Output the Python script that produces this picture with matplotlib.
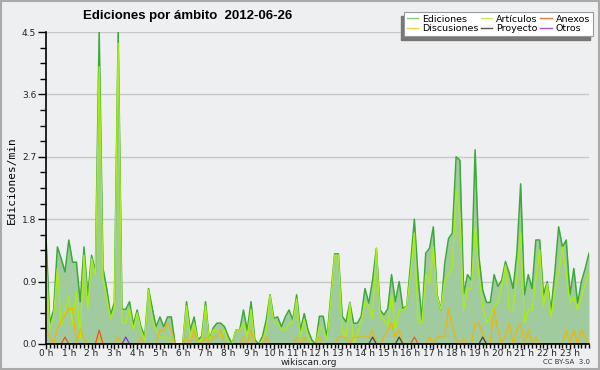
import numpy as np
import matplotlib
matplotlib.use("Agg")
import matplotlib.pyplot as plt
from matplotlib.lines import Line2D
from matplotlib.patches import Rectangle

# one value every 10 minutes, 0:00 .. 23:50
ediciones = [
    1.55, 0.30, 0.49, 1.40, 1.23, 1.04, 1.50, 1.18, 1.18, 0.61, 1.40, 0.70,
    1.28, 1.04, 4.50, 1.09, 0.80, 0.42, 0.60, 4.50, 0.50, 0.50, 0.61, 0.28,
    0.49, 0.25, 0.11, 0.80, 0.51, 0.25, 0.39, 0.25, 0.39, 0.39, 0.00, 0.00,
    0.00, 0.61, 0.20, 0.39, 0.06, 0.11, 0.61, 0.06, 0.23, 0.30, 0.30, 0.25,
    0.11, 0.00, 0.20, 0.20, 0.49, 0.20, 0.61, 0.06, 0.00, 0.11, 0.35, 0.71,
    0.37, 0.39, 0.25, 0.39, 0.49, 0.35, 0.71, 0.20, 0.44, 0.20, 0.06, 0.00,
    0.40, 0.40, 0.10, 0.70, 1.30, 1.30, 0.40, 0.32, 0.60, 0.30, 0.30, 0.40,
    0.80, 0.59, 0.92, 1.38, 0.49, 0.42, 0.51, 1.00, 0.61, 0.90, 0.51, 0.55,
    1.15, 1.80, 0.95, 0.35, 1.31, 1.38, 1.69, 0.71, 0.49, 1.16, 1.52, 1.60,
    2.70, 2.65, 0.73, 1.00, 0.92, 2.80, 1.26, 0.78, 0.60, 0.60, 1.00, 0.83,
    0.92, 1.19, 1.02, 0.80, 1.31, 2.31, 0.71, 1.00, 0.80, 1.50, 1.50, 0.71,
    0.90, 0.49, 1.04, 1.69, 1.40, 1.50, 0.71, 1.09, 0.59, 0.90, 1.09, 1.31,
]
articulos = [
    1.20, 0.20, 0.40, 1.09, 0.27, 0.46, 0.70, 0.27, 0.75, 0.08, 1.28, 0.51,
    1.23, 0.99, 4.00, 0.94, 0.66, 0.37, 0.50, 4.34, 0.30, 0.30, 0.51, 0.20,
    0.45, 0.20, 0.05, 0.78, 0.35, 0.20, 0.10, 0.10, 0.10, 0.05, 0.00, 0.00,
    0.00, 0.55, 0.10, 0.30, 0.05, 0.05, 0.55, 0.05, 0.20, 0.20, 0.10, 0.20,
    0.02, 0.00, 0.20, 0.20, 0.30, 0.10, 0.50, 0.00, 0.00, 0.05, 0.20, 0.70,
    0.30, 0.30, 0.20, 0.20, 0.30, 0.30, 0.65, 0.10, 0.35, 0.10, 0.00, 0.00,
    0.25, 0.20, 0.06, 0.63, 1.28, 1.28, 0.18, 0.10, 0.59, 0.01, 0.15, 0.32,
    0.61, 0.54, 0.37, 1.38, 0.39, 0.35, 0.25, 0.71, 0.20, 0.49, 0.49, 0.54,
    1.02, 1.60, 0.32, 0.30, 1.00, 0.87, 1.40, 0.68, 0.49, 0.92, 1.00, 1.09,
    2.22, 1.84, 0.49, 0.80, 0.80, 1.69, 1.02, 0.54, 0.30, 0.39, 0.54, 0.59,
    0.83, 1.14, 0.49, 0.49, 0.97, 1.60, 0.30, 0.49, 0.49, 0.92, 1.36, 0.54,
    0.87, 0.39, 0.78, 1.02, 1.40, 1.02, 0.59, 0.68, 0.49, 0.68, 0.87, 1.02,
]
discusiones = [
    0.22, 0.10, 0.00, 0.22, 0.32, 0.42, 0.51, 0.51, 0.00, 0.22, 0.08, 0.00,
    0.00, 0.00, 0.10, 0.00, 0.00, 0.00, 0.00, 0.10, 0.00, 0.00, 0.00, 0.00,
    0.00, 0.08, 0.00, 0.00, 0.00, 0.00, 0.20, 0.20, 0.30, 0.20, 0.00, 0.00,
    0.00, 0.10, 0.00, 0.20, 0.00, 0.00, 0.10, 0.00, 0.10, 0.10, 0.20, 0.00,
    0.00, 0.00, 0.00, 0.00, 0.10, 0.00, 0.20, 0.00, 0.00, 0.00, 0.10, 0.00,
    0.00, 0.00, 0.00, 0.00, 0.00, 0.00, 0.10, 0.00, 0.10, 0.00, 0.00, 0.00,
    0.10, 0.00, 0.00, 0.00, 0.00, 0.10, 0.10, 0.10, 0.00, 0.10, 0.10, 0.10,
    0.10, 0.10, 0.20, 0.00, 0.00, 0.10, 0.20, 0.30, 0.10, 0.20, 0.00, 0.00,
    0.00, 0.00, 0.00, 0.00, 0.00, 0.10, 0.00, 0.10, 0.10, 0.10, 0.51, 0.25,
    0.06, 0.00, 0.08, 0.00, 0.00, 0.30, 0.30, 0.15, 0.00, 0.00, 0.51, 0.20,
    0.00, 0.13, 0.30, 0.00, 0.20, 0.30, 0.00, 0.20, 0.00, 0.10, 0.00, 0.00,
    0.00, 0.00, 0.00, 0.00, 0.00, 0.20, 0.00, 0.20, 0.00, 0.20, 0.10, 0.00,
]
anexos = [
    0.0, 0.0, 0.0, 0.0, 0.0, 0.1, 0.0, 0.0, 0.0, 0.0, 0.0, 0.0,
    0.0, 0.0, 0.2, 0.0, 0.0, 0.0, 0.0, 0.0, 0.0, 0.0, 0.0, 0.0,
    0.0, 0.0, 0.0, 0.0, 0.0, 0.0, 0.0, 0.0, 0.0, 0.0, 0.0, 0.0,
    0.0, 0.0, 0.0, 0.0, 0.0, 0.0, 0.0, 0.0, 0.0, 0.0, 0.0, 0.0,
    0.0, 0.0, 0.0, 0.0, 0.0, 0.0, 0.0, 0.0, 0.0, 0.0, 0.0, 0.0,
    0.0, 0.0, 0.0, 0.0, 0.0, 0.0, 0.0, 0.0, 0.0, 0.0, 0.0, 0.0,
    0.0, 0.0, 0.0, 0.0, 0.0, 0.0, 0.0, 0.0, 0.0, 0.0, 0.0, 0.0,
    0.0, 0.0, 0.0, 0.0, 0.0, 0.0, 0.0, 0.0, 0.0, 0.0, 0.0, 0.0,
    0.0, 0.1, 0.0, 0.0, 0.0, 0.0, 0.0, 0.0, 0.0, 0.0, 0.0, 0.0,
    0.0, 0.0, 0.0, 0.0, 0.0, 0.0, 0.0, 0.0, 0.0, 0.0, 0.0, 0.0,
    0.0, 0.0, 0.0, 0.0, 0.0, 0.0, 0.0, 0.0, 0.0, 0.0, 0.0, 0.0,
    0.0, 0.0, 0.0, 0.0, 0.0, 0.0, 0.0, 0.0, 0.0, 0.0, 0.0, 0.0,
]
proyecto = [
    0.0, 0.0, 0.0, 0.0, 0.0, 0.0, 0.0, 0.0, 0.0, 0.0, 0.0, 0.0,
    0.0, 0.0, 0.0, 0.0, 0.0, 0.0, 0.0, 0.0, 0.0, 0.0, 0.0, 0.0,
    0.0, 0.0, 0.0, 0.0, 0.0, 0.0, 0.0, 0.0, 0.0, 0.0, 0.0, 0.0,
    0.0, 0.0, 0.0, 0.0, 0.0, 0.0, 0.0, 0.0, 0.0, 0.0, 0.0, 0.0,
    0.0, 0.0, 0.0, 0.0, 0.0, 0.0, 0.0, 0.0, 0.0, 0.0, 0.0, 0.0,
    0.0, 0.0, 0.0, 0.0, 0.0, 0.0, 0.0, 0.0, 0.0, 0.0, 0.0, 0.0,
    0.0, 0.0, 0.0, 0.0, 0.0, 0.0, 0.0, 0.0, 0.0, 0.0, 0.0, 0.0,
    0.0, 0.0, 0.1, 0.0, 0.0, 0.0, 0.0, 0.0, 0.0, 0.1, 0.0, 0.0,
    0.0, 0.0, 0.0, 0.0, 0.0, 0.0, 0.0, 0.0, 0.0, 0.0, 0.0, 0.0,
    0.0, 0.0, 0.0, 0.0, 0.0, 0.0, 0.0, 0.1, 0.0, 0.0, 0.0, 0.0,
    0.0, 0.0, 0.0, 0.0, 0.0, 0.0, 0.0, 0.0, 0.0, 0.0, 0.0, 0.0,
    0.0, 0.0, 0.0, 0.0, 0.0, 0.0, 0.0, 0.0, 0.0, 0.0, 0.0, 0.0,
]
otros = [
    0.0, 0.0, 0.0, 0.0, 0.0, 0.0, 0.0, 0.0, 0.0, 0.0, 0.0, 0.0,
    0.0, 0.0, 0.0, 0.0, 0.0, 0.0, 0.0, 0.0, 0.0, 0.1, 0.0, 0.0,
] + [0.0] * 120

hour_labels = ["%d h" % h for h in range(24)]

BG = "#eeeff1"
hours = np.arange(len(ediciones)) * 10 / 60.0

fig = plt.figure(figsize=(6, 3.7), dpi=100, facecolor=BG)
ax = fig.add_axes([0.0767, 0.0703, 0.905, 0.8432])
ax.set_facecolor(BG)

ax.fill_between(hours, ediciones, 0, color="#9fcb9f", lw=0)
ax.plot(hours, ediciones, color="#3aaa38", lw=1.1)
ax.plot(hours, articulos, color="#aaee11", lw=1.0)
ax.plot(hours, discusiones, color="#f2b600", lw=0.9)
ax.plot(hours, anexos, color="#ee5522", lw=0.9)
ax.plot(hours, proyecto, color="#444444", lw=0.9)
ax.plot(hours, otros, color="#8833cc", lw=0.9)

ax.set_xlim(0, hours[-1])
ax.set_ylim(0, 4.5)
yt = np.arange(0, 4.51, 0.9)
ax.set_yticks(yt)
ax.set_yticks(np.arange(0, 4.51, 0.225), minor=True)
ax.set_yticklabels(["%.1f" % v for v in yt])
ax.set_xticks(np.arange(24))
ax.set_xticklabels(hour_labels)
ax.set_xticks(hours, minor=True)
ax.grid(axis="y", color="#c8c8c8", lw=1)
ax.set_axisbelow(True)

for s in ["top", "right"]:
    ax.spines[s].set_visible(False)
ax.spines["left"].set_linewidth(1.2)
ax.spines["bottom"].set_linewidth(1.2)
ax.tick_params(axis="both", which="major", labelsize=6.5, colors="black", labelcolor="#222222")
ax.tick_params(axis="y", which="major", length=6, width=1, pad=1)
ax.tick_params(axis="y", which="minor", length=4, width=1)
ax.tick_params(axis="x", which="major", length=3.5, width=1, pad=0)
ax.tick_params(axis="x", which="minor", length=3, width=1)

fig.text(0.02, 0.513, "Ediciones/min", rotation=90, ha="center", va="center",
         family="DejaVu Sans Mono", fontsize=8)
fig.text(0.515, 0.021, "wikiscan.org", ha="center", va="center", fontsize=6.5,
         color="#222222")
fig.text(0.312, 0.958, "Ediciones por ámbito  2012-06-26", ha="center", va="center",
         fontsize=9.5, fontweight="bold", family="Liberation Sans")
fig.text(0.983, 0.021, "CC BY-SA  3.0", ha="right", va="center", fontsize=5,
         color="#333333")

handles = [
    Line2D([], [], color="#88cc88", lw=1),
    Line2D([], [], color="#ffcc44", lw=1),
    Line2D([], [], color="#ccee55", lw=1),
    Line2D([], [], color="#555555", lw=1),
    Line2D([], [], color="#ee7744", lw=1),
    Line2D([], [], color="#9955ee", lw=1),
]
names = ["Ediciones", "Discusiones", "Artículos", "Proyecto", "Anexos", "Otros"]
leg = fig.legend(handles, names, loc="upper right", bbox_to_anchor=(0.988, 0.968),
                 ncol=3, fontsize=6.8, frameon=True, fancybox=False, framealpha=1,
                 handlelength=1.2, handletextpad=0.4, columnspacing=0.3,
                 labelspacing=0.05, borderpad=0.3, borderaxespad=0)
leg.get_frame().set_edgecolor("#999999")
leg.get_frame().set_facecolor("white")
leg.get_frame().set_linewidth(0.8)
leg.set_zorder(5)

# shadow behind the legend, shifted down-left
fig.canvas.draw()
bb = leg.get_window_extent().transformed(fig.transFigure.inverted())
fig.patches.append(Rectangle((bb.x0 - 3 / 600, bb.y0 - 4 / 370), bb.width, bb.height,
                             transform=fig.transFigure, color="#777777", zorder=4))

# outer frame
fig.patches.append(Rectangle((0.001, 0.002), 0.997, 0.996, transform=fig.transFigure,
                             fill=False, edgecolor="#aaaaaa", lw=1.5, zorder=10))

fig.savefig("out.png", dpi=100, facecolor=BG)
